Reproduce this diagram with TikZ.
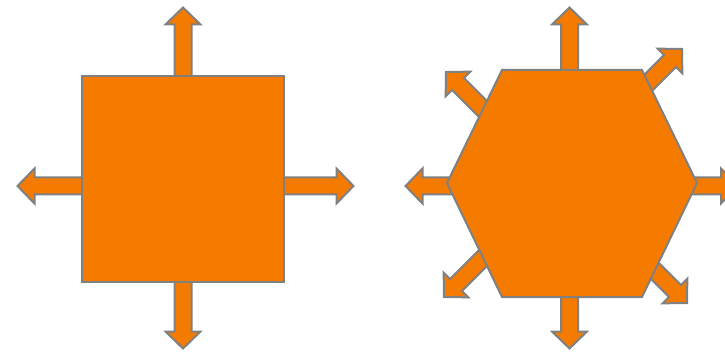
\documentclass[tikz,border=0pt]{standalone}
\usetikzlibrary{calc}

\definecolor{shapeorange}{HTML}{F47B00}
\definecolor{edgegray}{HTML}{808080}

% block arrow: tip, angle, length
\newcommand{\blockarrow}[3]{%
  \begin{scope}[shift={#1}, rotate=#2]
    \draw[blockarr] (0,0) -- (-17,17.5) -- (-17,8.5) -- (-#3,8.5) -- (-#3,-8.5) -- (-17,-8.5) -- (-17,-17.5) -- cycle;
  \end{scope}}

\begin{document}
\begin{tikzpicture}[x=1pt, y=1pt,
  blockarr/.style={fill=shapeorange, draw=edgegray, line width=2pt, line join=miter},
  body/.style={fill=shapeorange, draw=edgegray, line width=2pt, inner sep=0pt, outer sep=0pt}]
  \useasboundingbox (0,0) rectangle (725,351);

  % square with four arrows
  \blockarrow{(183,343.5)}{90}{150}
  \blockarrow{(183,2.5)}{270}{150}
  \blockarrow{(17.5,165)}{180}{150}
  \blockarrow{(353.5,165)}{0}{150}
  \node[body, minimum width=202pt, minimum height=206pt] (square) at (183,172) {};

  % hexagon with eight arrows
  \blockarrow{(569.5,343.5)}{90}{150}
  \blockarrow{(569.5,2.5)}{270}{150}
  \blockarrow{(405.5,165)}{180}{150}
  \blockarrow{(738,165)}{0}{150}
  \blockarrow{(446,279)}{135}{100}
  \blockarrow{(682,302)}{45}{100}
  \blockarrow{(444,54)}{225}{100}
  \blockarrow{(687,48)}{315}{100}
  \draw[body] (447,168) -- (502,281) -- (642,281) -- (697,168) -- (642,54) -- (502,54) -- cycle;
\end{tikzpicture}
\end{document}
